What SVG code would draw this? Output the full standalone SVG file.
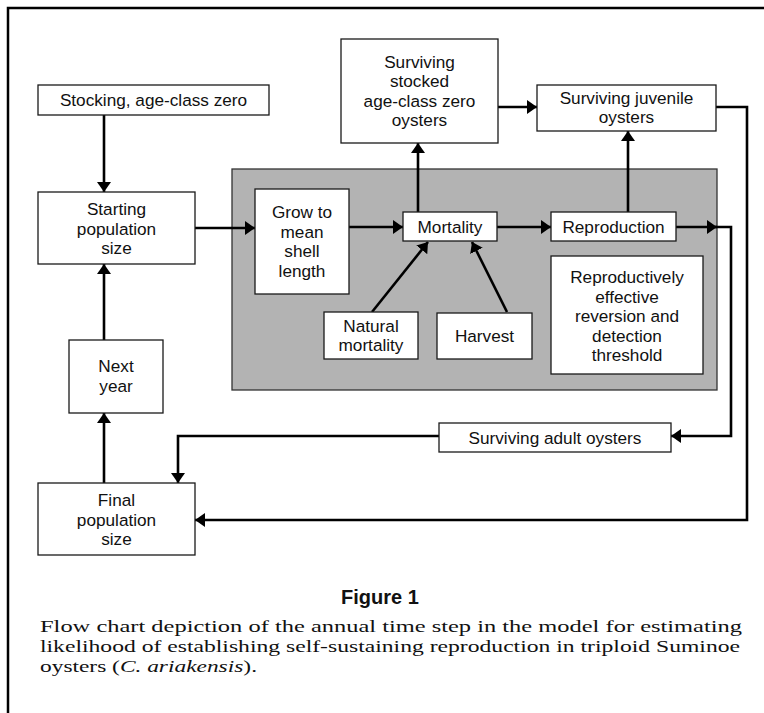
<svg xmlns="http://www.w3.org/2000/svg" width="764" height="713" viewBox="0 0 764 713">
<style>
.bg{fill:#ffffff}
.frame{fill:none;stroke:#000;stroke-width:2.5}
.panel{fill:#b3b3b3;stroke:#333;stroke-width:1.3}
.box{fill:#ffffff;stroke:#1a1a1a;stroke-width:1.3}
.lbl{font-family:"Liberation Sans",Arial,Helvetica,sans-serif;font-size:17.2px;fill:#111;text-anchor:middle}
.con{fill:none;stroke:#000;stroke-width:2.6}
.fig{font-family:"Liberation Sans",Arial,Helvetica,sans-serif;font-size:20px;font-weight:bold;fill:#111;text-anchor:middle}
.cap{font-family:"Liberation Serif","Times New Roman",serif;font-size:17px;fill:#111}
</style>
<defs>
<marker id="ah" markerUnits="userSpaceOnUse" markerWidth="10" markerHeight="14" refX="10" refY="7" orient="auto">
<path d="M0,0 L10,7 L0,14 z" fill="#000"/>
</marker>
</defs>
<rect class="bg" x="0" y="0" width="764" height="713"/>
<path class="frame" d="M8,713 L8,8 L764,8"/>
<rect class="panel" x="232" y="169" width="485" height="221"/>

<g id="connectors">
<path class="con" d="M104,115 L104,192" marker-end="url(#ah)"/>
<path class="con" d="M195,228 L255,228" marker-end="url(#ah)"/>
<path class="con" d="M349,227 L403,227" marker-end="url(#ah)"/>
<path class="con" d="M497,227 L551,227" marker-end="url(#ah)"/>
<path class="con" d="M676,227 L717,227" marker-end="url(#ah)"/>
<path class="con" d="M715,227 L731,227 L731,436 L671,436" marker-end="url(#ah)"/>
<path class="con" d="M418,212 L418,143" marker-end="url(#ah)"/>
<path class="con" d="M628,212 L628,131" marker-end="url(#ah)"/>
<path class="con" d="M498,107 L537,107" marker-end="url(#ah)"/>
<path class="con" d="M716,107 L747,107 L747,520 L195,520" marker-end="url(#ah)"/>
<path class="con" d="M439,436 L178,436 L178,483" marker-end="url(#ah)"/>
<path class="con" d="M372,312 L428,242" marker-end="url(#ah)"/>
<path class="con" d="M507,312 L472,242" marker-end="url(#ah)"/>
<path class="con" d="M104,483 L104,413" marker-end="url(#ah)"/>
<path class="con" d="M104,340 L104,264" marker-end="url(#ah)"/>
</g>

<g id="stocking">
<rect class="box" x="38" y="85" width="231" height="30"/>
<text class="lbl" x="153.5" y="106">Stocking, age-class zero</text>
</g>
<g id="starting">
<rect class="box" x="38" y="192" width="157" height="72"/>
<text class="lbl" x="116.5" y="215">Starting</text>
<text class="lbl" x="116.5" y="234.5">population</text>
<text class="lbl" x="116.5" y="254">size</text>
</g>
<g id="grow">
<rect class="box" x="255" y="189" width="94" height="105"/>
<text class="lbl" x="302" y="218">Grow to</text>
<text class="lbl" x="302" y="237.5">mean</text>
<text class="lbl" x="302" y="257">shell</text>
<text class="lbl" x="302" y="276.5">length</text>
</g>
<g id="mortality">
<rect class="box" x="403" y="212" width="94" height="29"/>
<text class="lbl" x="450" y="232.5">Mortality</text>
</g>
<g id="reproduction">
<rect class="box" x="551" y="212" width="125" height="29"/>
<text class="lbl" x="613.5" y="232.5">Reproduction</text>
</g>
<g id="stocked">
<rect class="box" x="341" y="39" width="157" height="104"/>
<text class="lbl" x="419.5" y="67.5">Surviving</text>
<text class="lbl" x="419.5" y="87">stocked</text>
<text class="lbl" x="419.5" y="106.5">age-class zero</text>
<text class="lbl" x="419.5" y="126">oysters</text>
</g>
<g id="juvenile">
<rect class="box" x="537" y="85" width="179" height="46"/>
<text class="lbl" x="626.5" y="103.5">Surviving juvenile</text>
<text class="lbl" x="626.5" y="123">oysters</text>
</g>
<g id="natural">
<rect class="box" x="324" y="312" width="94" height="47"/>
<text class="lbl" x="371" y="331.5">Natural</text>
<text class="lbl" x="371" y="351">mortality</text>
</g>
<g id="harvest">
<rect class="box" x="437" y="313" width="95" height="46"/>
<text class="lbl" x="484.5" y="342">Harvest</text>
</g>
<g id="threshold">
<rect class="box" x="551" y="256" width="152" height="118"/>
<text class="lbl" x="627" y="283">Reproductively</text>
<text class="lbl" x="627" y="302.5">effective</text>
<text class="lbl" x="627" y="322">reversion and</text>
<text class="lbl" x="627" y="341.5">detection</text>
<text class="lbl" x="627" y="361">threshold</text>
</g>
<g id="nextyear">
<rect class="box" x="69" y="340" width="94" height="73"/>
<text class="lbl" x="116" y="372">Next</text>
<text class="lbl" x="116" y="391.5">year</text>
</g>
<g id="final">
<rect class="box" x="38" y="483" width="157" height="72"/>
<text class="lbl" x="116.5" y="506">Final</text>
<text class="lbl" x="116.5" y="525.5">population</text>
<text class="lbl" x="116.5" y="545">size</text>
</g>
<g id="adult">
<rect class="box" x="439" y="423" width="232" height="29"/>
<text class="lbl" x="555" y="444">Surviving adult oysters</text>
</g>

<g id="caption">
<text class="fig" x="380" y="604">Figure 1</text>
<text class="cap" x="40" y="632" textLength="702" lengthAdjust="spacingAndGlyphs">Flow chart depiction of the annual time step in the model for estimating</text>
<text class="cap" x="40" y="652" textLength="700" lengthAdjust="spacingAndGlyphs">likelihood of establishing self-sustaining reproduction in triploid Suminoe</text>
<text class="cap" x="40" y="672" textLength="217" lengthAdjust="spacingAndGlyphs">oysters (<tspan font-style="italic">C. ariakensis</tspan>).</text>
</g>
</svg>
